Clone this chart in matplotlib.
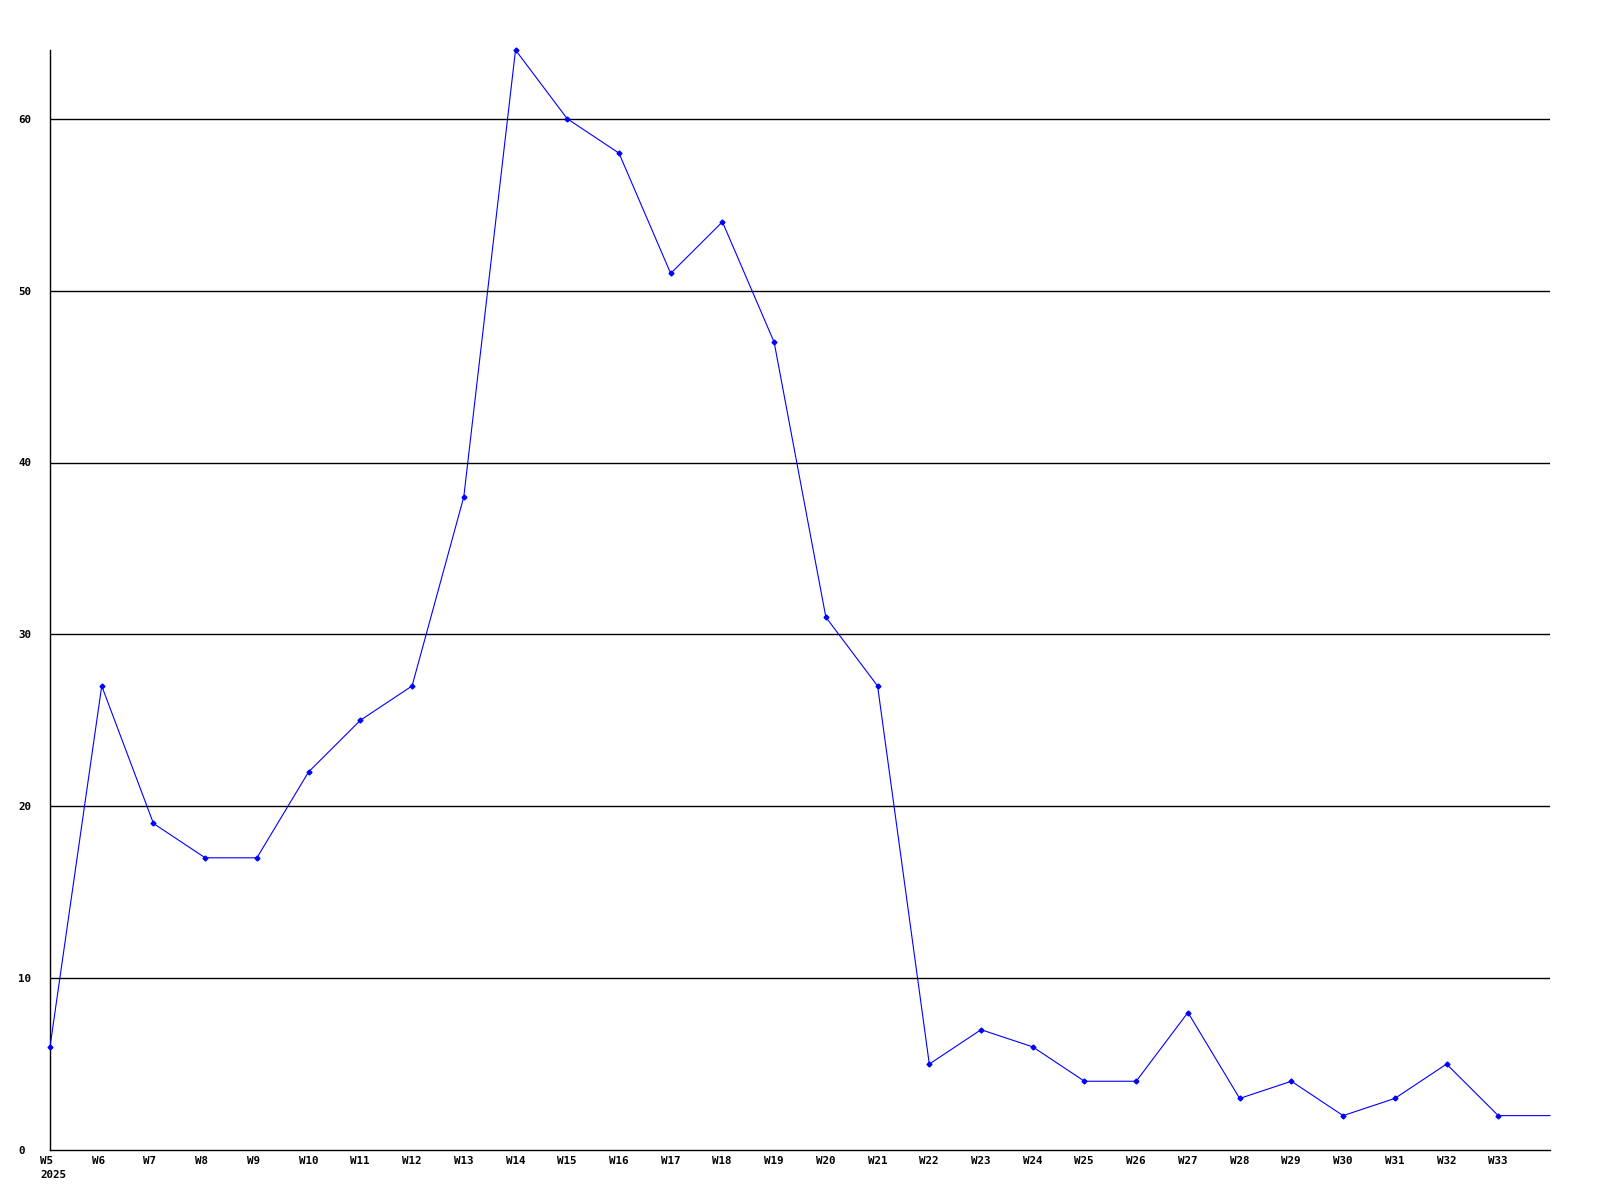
import matplotlib
matplotlib.use("Agg")
import matplotlib.pyplot as plt
from matplotlib.transforms import ScaledTranslation

weeks = ["W5", "W6", "W7", "W8", "W9", "W10", "W11", "W12", "W13", "W14",
         "W15", "W16", "W17", "W18", "W19", "W20", "W21", "W22", "W23", "W24",
         "W25", "W26", "W27", "W28", "W29", "W30", "W31", "W32", "W33", "W34"]
counts = [6, 27, 19, 17, 17, 22, 25, 27, 38, 64,
          60, 58, 51, 54, 47, 31, 27, 5, 7, 6,
          4, 4, 8, 3, 4, 2, 3, 5, 2, 2]
tick_labels = weeks[:-1]
tick_labels[0] = "W5\n2025"
y_ticks = [0, 10, 20, 30, 40, 50, 60]

fig = plt.figure(figsize=(16, 12), dpi=100)
ax = fig.add_axes([50 / 1600, 50 / 1200, 1500 / 1600, 1100 / 1200])

x = list(range(len(weeks)))
for yv in y_ticks[1:]:
    ax.axhline(yv, color="black", linewidth=1.0, zorder=1)
ax.plot(x, counts, color="#0000ff", linewidth=0.8, marker="D", markersize=2.5,
        markevery=list(range(len(weeks) - 1)), zorder=3, clip_on=False)

ax.set_xlim(0, len(weeks) - 1)
ax.set_ylim(0, max(counts))
for side in ["top", "right"]:
    ax.spines[side].set_visible(False)
for side in ["left", "bottom"]:
    ax.spines[side].set_linewidth(1.0)

font = {"family": "DejaVu Sans Mono", "weight": "bold", "size": 7.8}
ax.set_xticks(x[:-1])
ax.set_xticklabels(tick_labels, ha="left", va="top", linespacing=1.5, **font)
ax.set_yticks(y_ticks)
ax.set_yticklabels([str(v) for v in y_ticks], ha="left", **font)
ax.tick_params(length=0, pad=4)

dx = ScaledTranslation(-10 / 100, 0, fig.dpi_scale_trans)
for lbl in ax.get_xticklabels():
    lbl.set_transform(lbl.get_transform() + dx)
dy = ScaledTranslation(-26 / 100, 0, fig.dpi_scale_trans)
for lbl in ax.get_yticklabels():
    lbl.set_transform(lbl.get_transform() + dy)

fig.savefig("out.png", dpi=100)
